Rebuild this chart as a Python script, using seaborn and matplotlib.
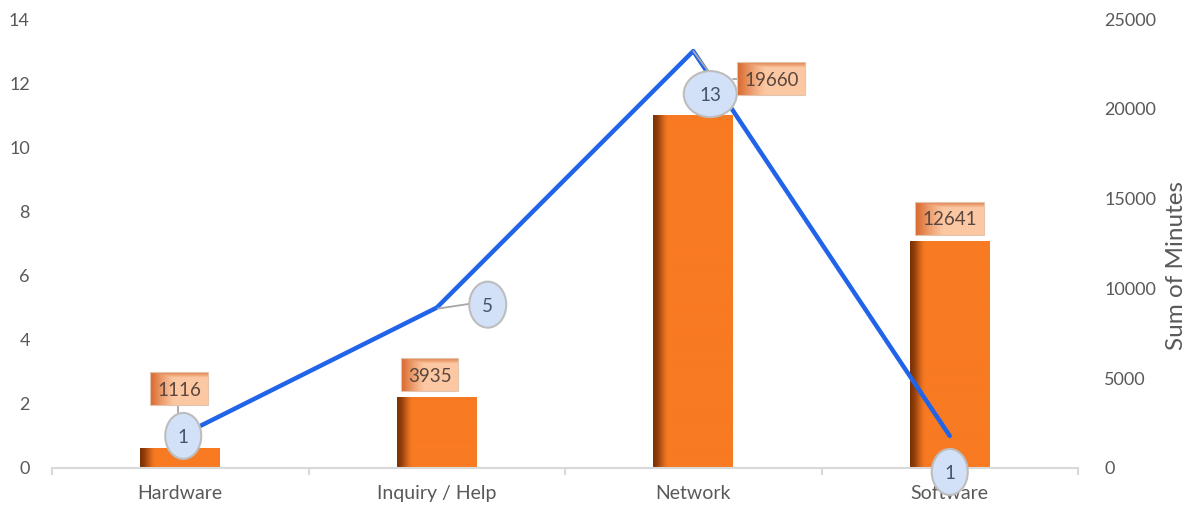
import numpy as np
import matplotlib
matplotlib.use("Agg")
import matplotlib.pyplot as plt
import seaborn as sns
from matplotlib.patches import Ellipse, Rectangle
from matplotlib.lines import Line2D
from matplotlib.transforms import Affine2D, ScaledTranslation
from matplotlib.colors import to_rgb

# ---- data ----
categories = ["Hardware", "Inquiry / Help", "Network", "Software"]
ticket_counts = [1, 5, 13, 1]
minutes = [1116, 3935, 19660, 12641]
count_ticks = [0, 2, 4, 6, 8, 10, 12, 14]
minute_ticks = [0, 5000, 10000, 15000, 20000, 25000]

# ---- label placement (pixel offsets from the anchor point) ----
count_label_offsets = [(3, 0), (51, 3), (17, -43), (0, -36)]
count_label_widths = [36, 37, 53, 36]
minute_label_offsets = [(-1, 59), (-7, 22.5), (78, 36), (0, 22.5)]
minute_label_widths = [58, 57, 68, 69]

ORANGE = "#F87A22"
ORANGE_DARK = "#7E3306"
BLUE = "#2164E8"
GREY_TXT = "#595959"
AXIS_GREY = "#D9D9D9"
LEADER = "#A6A6A6"

sns.set_theme(style="white")
plt.rcParams["font.family"] = ["Lato", "DejaVu Sans"]

fig = plt.figure(figsize=(11.91, 5.08), dpi=100)
ax = fig.add_axes([52 / 1191, 40 / 508, 1026 / 1191, 449 / 508])
ax2 = ax.twinx()
ax.set_zorder(ax2.get_zorder() + 1)
ax.patch.set_visible(False)

# ---- bars: total minutes on the secondary axis ----
sns.barplot(x=categories, y=minutes, ax=ax2, color=ORANGE, width=0.31,
            saturation=1, edgecolor="none")

# shaded left edge on every bar
t = np.linspace(0, 1, 200)
s = np.clip(t / 0.2, 0, 1)
s = s * s * (3 - 2 * s)
c0, c1 = np.array(to_rgb(ORANGE_DARK)), np.array(to_rgb(ORANGE))
bar_grad = (c0[None, :] * (1 - s[:, None]) + c1[None, :] * s[:, None])[None, :, :]
ax2.set_autoscale_on(False)
for p in list(ax2.patches):
    x0, y0, w, h = p.get_x(), p.get_y(), p.get_width(), p.get_height()
    im = ax2.imshow(bar_grad, extent=(x0, x0 + w, y0, y0 + h), aspect="auto",
                    interpolation="bilinear", zorder=p.get_zorder())
    im.set_clip_path(p)

# ---- line: ticket count on the primary axis ----
xpos = np.arange(len(categories))
sns.lineplot(x=xpos, y=ticket_counts, ax=ax, color=BLUE, lw=3.2)

ax.set_autoscale_on(False)
ax.set_xlim(-0.5, 3.5)
ax.set_ylim(0, 14)
ax2.set_ylim(0, 25000)


def anchored(trans, x, y, dx=0, dy=0):
    return Affine2D().translate(dx, dy) + ScaledTranslation(x, y, trans)


# leader lines (pixel offsets relative to the line points)
leaders = {
    0: [((-2, 23), (-2, 31))],
    1: [((1, -1), (34, 4))],
    2: [((0, 0), (15, -20)), ((40, -28), (44, -28))],
}
for i, segs in leaders.items():
    tr = anchored(ax.transData, xpos[i], ticket_counts[i])
    for (a, b) in segs:
        ax.add_line(Line2D([a[0], b[0]], [a[1], b[1]], transform=tr,
                           color=LEADER, lw=1.3, clip_on=False, zorder=4))

# bar value boxes
bw = np.linspace(0, 1, 120)
bh = np.linspace(0, 1, 40)
peach = np.array(to_rgb("#FCC8A3"))
dark = np.array(to_rgb("#D8662A"))
hx = 1 - np.clip(bw / 0.42, 0, 1)
hx = hx ** 1.2
vy = 1 - np.clip(bh / 0.16, 0, 1)
mix = np.maximum(hx[None, :], 0.75 * vy[:, None])
box_grad = peach[None, None, :] * (1 - mix[..., None]) + dark[None, None, :] * mix[..., None]
BOX_H = 33
for i, (v, (dx, dy), w) in enumerate(zip(minutes, minute_label_offsets, minute_label_widths)):
    tr = anchored(ax2.transData, xpos[i], v, dx, dy)
    ax.imshow(box_grad, extent=(-w / 2, w / 2, -BOX_H / 2, BOX_H / 2),
              transform=tr, aspect="auto", interpolation="bilinear",
              zorder=5, clip_on=False)
    ax.add_patch(Rectangle((-w / 2, -BOX_H / 2), w, BOX_H, transform=tr, fill=False,
                           edgecolor="#E3C4AE", lw=0.8, clip_on=False, zorder=5.1))
    ax.text(0, 0, f"{v}", transform=tr, ha="center", va="center_baseline",
            fontsize=13.5, color="#5A463C", zorder=5.2, clip_on=False)

# ticket count callouts
for i, (v, (dx, dy), w) in enumerate(zip(ticket_counts, count_label_offsets, count_label_widths)):
    tr = anchored(ax.transData, xpos[i], v, dx, dy)
    ax.add_patch(Ellipse((0, 0), w, 46, transform=tr, facecolor="#D2E1F8",
                         edgecolor="#BDBDBD", lw=1.5, clip_on=False, zorder=6))
    ax.text(0, 0, f"{v}", transform=tr, ha="center", va="center_baseline",
            fontsize=13.5, color="#44546A", zorder=6.1, clip_on=False)

# ---- axes styling ----
ax.set_xticks(xpos)
ax.set_xticklabels(categories)
ax.set_xticks([-0.5, 0.5, 1.5, 2.5, 3.5], minor=True)
ax.tick_params(axis="x", which="major", bottom=True, length=0, pad=12,
               labelsize=14, labelcolor=GREY_TXT)
ax.tick_params(axis="x", which="minor", bottom=True, length=5, width=1.5,
               color=AXIS_GREY, direction="out")
ax.set_yticks(count_ticks)
ax.tick_params(axis="y", left=True, length=0, pad=16, labelsize=13, labelcolor=GREY_TXT)
ax2.set_yticks(minute_ticks)
ax2.tick_params(axis="y", right=True, length=0, pad=19, labelsize=13, labelcolor=GREY_TXT)
ax.set_xlabel("")
ax.set_ylabel("")
ax2.set_ylabel("Sum of Minutes", fontsize=17.5, color=GREY_TXT)
ax2.yaxis.set_label_coords(1.0857, 0.45)

for name, sp in ax.spines.items():
    sp.set_visible(name == "bottom")
ax.spines["bottom"].set_color(AXIS_GREY)
ax.spines["bottom"].set_linewidth(1.5)
for sp in ax2.spines.values():
    sp.set_visible(False)
ax.grid(False)
ax2.grid(False)

fig.savefig("out.png", dpi=100)
